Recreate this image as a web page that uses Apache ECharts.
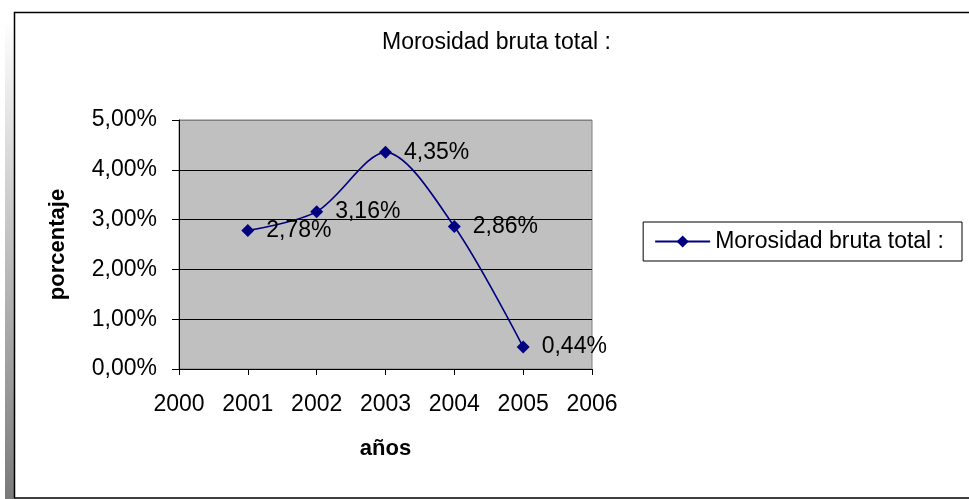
<!DOCTYPE html>
<html>
<head>
<meta charset="utf-8">
<script src="https://cdn.jsdelivr.net/npm/echarts@6/dist/echarts.min.js"></script>
<style>
  html, body { margin: 0; padding: 0; background: #fff; }
  #chart { width: 969px; height: 499px; }
</style>
</head>
<body>
<div id="chart"></div>
<script>
// datos
var years = [2001, 2002, 2003, 2004, 2005];
var morosidad = [2.78, 3.16, 4.35, 2.86, 0.44]; // en %
var serieNombre = 'Morosidad bruta total :';

var FONT = '"Liberation Sans", Arial, sans-serif';
var FS = 23;

function pct(v) {
    return v.toFixed(2).replace('.', ',') + '%';
}

var chart = echarts.init(document.getElementById('chart'));

chart.setOption({
    animation: false,
    textStyle: { fontFamily: FONT },
    title: {
        text: 'Morosidad bruta total :',
        left: 382,
        top: 31,
        padding: 0,
        textStyle: { fontFamily: FONT, fontSize: FS, fontWeight: 'normal', color: '#000' }
    },
    legend: {
        data: [serieNombre],
        right: 7,
        top: 222,
        orient: 'vertical',
        padding: [8, 18, 8, 11],
        borderColor: '#000',
        borderWidth: 1,
        itemWidth: 55,
        itemHeight: 15,
        itemGap: 0,
        textStyle: { fontFamily: FONT, fontSize: FS, color: '#000' }
    },
    grid: { //area del grafico
        left: 179,
        right: 377,
        top: 120,
        bottom: 130,
        show: true,
        backgroundColor: '#C0C0C0',
        borderColor: '#808080',
        borderWidth: 1
    },
    xAxis: {
        type: 'value',
        min: 2000,
        max: 2006,
        interval: 1,
        name: 'años',
        nameLocation: 'middle',
        nameGap: 69,
        nameTextStyle: { fontFamily: FONT, fontSize: 22, fontWeight: 'bold', color: '#000' },
        axisLine: { show: true, onZero: false, lineStyle: { color: '#000', width: 1 } },
        axisTick: { show: true, inside: false, length: 6, lineStyle: { color: '#000' } },
        axisLabel: {
            margin: 24,
            fontSize: FS,
            color: '#000',
            fontFamily: FONT,
            formatter: function (v) { return String(v); }
        },
        splitLine: { show: false }
    },
    yAxis: {
        type: 'value',
        min: 0,
        max: 5,
        interval: 1,
        name: 'porcentaje',
        nameLocation: 'middle',
        nameRotate: 90,
        nameGap: 110,
        nameTextStyle: { fontFamily: FONT, fontSize: 22, fontWeight: 'bold', color: '#000' },
        axisLine: { show: true, lineStyle: { color: '#000', width: 1 } },
        axisTick: { show: true, inside: false, length: 7, lineStyle: { color: '#000' } },
        axisLabel: {
            margin: 22,
            fontSize: FS,
            color: '#000',
            fontFamily: FONT,
            formatter: function (v) { return pct(v); }
        },
        splitLine: {
            show: true,
            lineStyle: { color: ['#000', '#000', '#000', '#000', '#000', '#808080'], width: 1 }
        }
    },
    series: [{
        name: serieNombre,
        type: 'line',
        data: years.map(function (y, i) { return [y, morosidad[i]]; }),
        smooth: 0.3,
        symbol: 'diamond',
        symbolSize: 13,
        lineStyle: { color: '#000080', width: 1.6 },
        itemStyle: { color: '#000080' },
        label: {
            show: true,
            position: 'right',
            distance: 12,
            fontSize: FS,
            color: '#000',
            fontFamily: FONT,
            formatter: function (p) { return pct(p.value[1]); }
        }
    }],
    graphic: [
        { // franja gris a la izquierda
            type: 'rect',
            shape: { x: 5, y: 20, width: 9, height: 479 },
            style: {
                fill: new echarts.graphic.LinearGradient(0, 0, 0, 1, [
                    { offset: 0, color: '#ffffff' },
                    { offset: 1, color: '#7a7a7a' }
                ])
            },
            silent: true,
            z: -10
        },
        { // marco exterior
            type: 'rect',
            shape: { x: 14.5, y: 12.5, width: 1000, height: 485.5 },
            style: { fill: null, stroke: '#000', lineWidth: 1.5 },
            silent: true,
            z: -5
        }
    ]
});
</script>
</body>
</html>
